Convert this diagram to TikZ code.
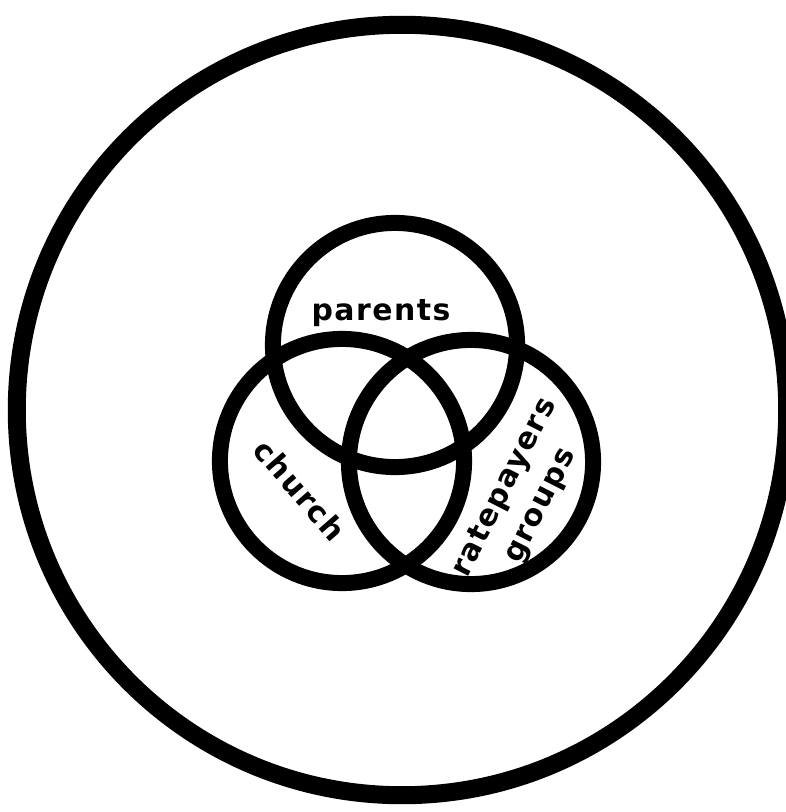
\documentclass[tikz,border=0pt]{standalone}
\usepackage{fontspec}
\newfontfamily\letterfont[LetterSpace=5]{DejaVu Sans}

\begin{document}
\begin{tikzpicture}[x=0.01cm, y=-0.01cm,
    outer/.style={circle, draw=black, line width=0.18cm, minimum size=7.70cm, inner sep=0pt},
    group/.style={circle, draw=black, line width=0.16cm, minimum size=2.44cm, inner sep=0pt},
    lettering/.style={font=\letterfont\bfseries\fontsize{8.5}{11.4}\selectfont, align=center, inner sep=0pt}
]
    \useasboundingbox (0,0) rectangle (786,812);

    \node[outer] (community) at (402,410) {};

    \node[group] (parentsSet) at (395,345) {};
    \node[group] (churchSet) at (342,461) {};
    \node[group] (ratepayersSet) at (471,462) {};

    \node[lettering] (parentsText) at (381,313) {parents};
    \node[lettering, rotate=-49] (churchText) at (300,490) {church};
    \node[lettering, rotate=63] (ratepayersText) at (523,497) {ratepayers\\groups};
\end{tikzpicture}
\end{document}
